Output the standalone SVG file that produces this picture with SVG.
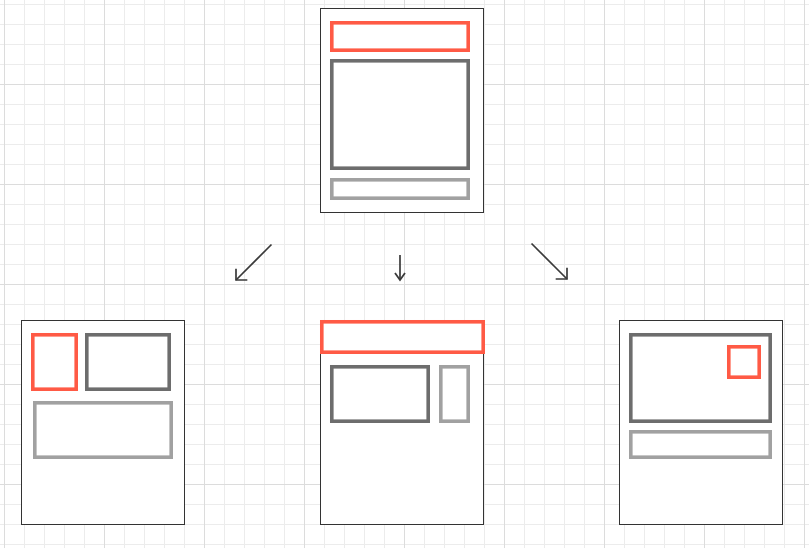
<svg xmlns="http://www.w3.org/2000/svg" width="809" height="548" viewBox="0 0 809 548">
  <defs>
    <pattern id="minor" width="20" height="20" patternUnits="userSpaceOnUse" x="4" y="4">
      <path d="M0.5,0 V20 M0,0.5 H20" fill="none" stroke="#ececec" stroke-width="1"/>
    </pattern>
    <pattern id="major" width="100" height="100" patternUnits="userSpaceOnUse" x="4" y="84">
      <path d="M0.5,0 V100 M0,0.5 H100" fill="none" stroke="#dcdcdc" stroke-width="1"/>
    </pattern>
    <marker id="headDiag" markerUnits="userSpaceOnUse" markerWidth="14" markerHeight="20" refX="10" refY="10" orient="auto" overflow="visible">
      <path d="M2,2 L10,10 L2,18" fill="none" stroke="#3a3a3a" stroke-width="1.7"/>
    </marker>
    <marker id="headDown" markerUnits="userSpaceOnUse" markerWidth="10" markerHeight="12" refX="8" refY="6" orient="auto" overflow="visible">
      <path d="M1,1 L8,6 L1,11" fill="none" stroke="#3a3a3a" stroke-width="1.8"/>
    </marker>
    <style>
      .frame { fill: #ffffff; stroke: #333333; stroke-width: 1; }
      .accent { fill: none; stroke: #ff5a45; stroke-width: 3.6; }
      .main { fill: none; stroke: #6d6d6d; stroke-width: 3.6; }
      .minor { fill: none; stroke: #a1a1a1; stroke-width: 3.6; }
      .link { fill: none; stroke: #3a3a3a; stroke-width: 1.7; }
    </style>
  </defs>

  <!-- background grid -->
  <rect width="809" height="548" fill="#ffffff"/>
  <rect width="809" height="548" fill="url(#minor)"/>
  <rect width="809" height="548" fill="url(#major)"/>

  <!-- source layout -->
  <g id="layout-source">
    <rect class="frame" x="320.5" y="8.5" width="163" height="204"/>
    <rect class="accent" x="331.8" y="22.8" width="136.4" height="27.4"/>
    <rect class="main" x="331.8" y="60.8" width="136.4" height="107.4"/>
    <rect class="minor" x="331.8" y="179.8" width="136.4" height="18.4"/>
  </g>

  <!-- variant: sidebar left -->
  <g id="layout-left">
    <rect class="frame" x="21.5" y="320.5" width="163" height="204"/>
    <rect class="accent" x="32.8" y="334.8" width="43.4" height="54.4"/>
    <rect class="main" x="86.8" y="334.8" width="82.4" height="54.4"/>
    <rect class="minor" x="34.8" y="402.8" width="136.4" height="54.4"/>
  </g>

  <!-- variant: header across top -->
  <g id="layout-middle">
    <rect class="frame" x="320.5" y="320.5" width="163" height="204"/>
    <rect class="accent" x="321.8" y="321.8" width="161.4" height="30.4"/>
    <rect class="main" x="331.8" y="366.8" width="96.4" height="54.4"/>
    <rect class="minor" x="440.8" y="366.8" width="27.4" height="54.4"/>
  </g>

  <!-- variant: inset badge -->
  <g id="layout-right">
    <rect class="frame" x="619.5" y="320.5" width="163" height="204"/>
    <rect class="main" x="630.8" y="334.8" width="139.4" height="86.4"/>
    <rect class="accent" x="728.8" y="346.8" width="30.4" height="30.4"/>
    <rect class="minor" x="630.8" y="431.8" width="139.4" height="25.4"/>
  </g>

  <!-- connectors -->
  <g id="connectors">
    <line class="link" x1="271.5" y1="244.5" x2="236" y2="280" marker-end="url(#headDiag)"/>
    <line class="link" x1="400" y1="255" x2="400" y2="280" marker-end="url(#headDown)"/>
    <line class="link" x1="531.5" y1="243.5" x2="567" y2="279" marker-end="url(#headDiag)"/>
  </g>
</svg>
